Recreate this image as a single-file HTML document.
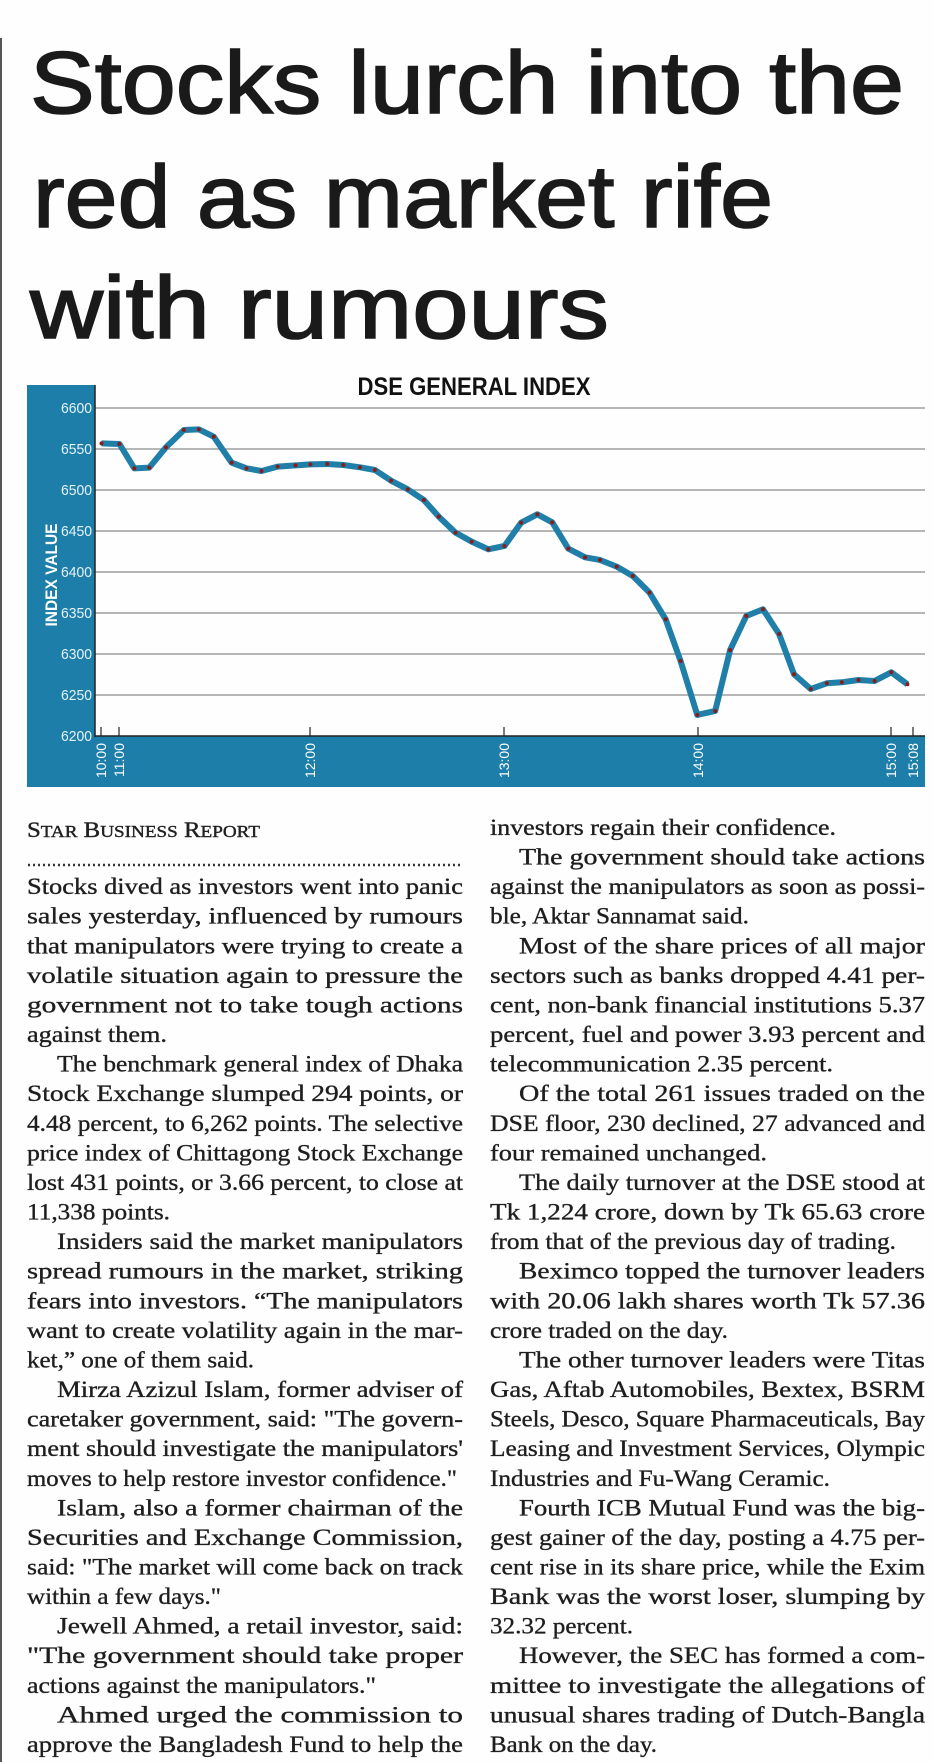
<!DOCTYPE html>
<html><head><meta charset="utf-8"><style>
html,body{margin:0;padding:0;background:#fff;}
svg{display:block;}
.b{font-family:"Liberation Serif",serif;font-size:23px;fill:#1e1e1e;stroke:#1e1e1e;stroke-width:0.35;}
</style></head><body>
<svg width="934" height="1762" viewBox="0 0 934 1762" xmlns="http://www.w3.org/2000/svg">
<rect width="934" height="1762" fill="#fefefe"/>
<line x1="1" y1="38" x2="1" y2="1762" stroke="#555" stroke-width="2"/>
<g font-family="'Liberation Sans',sans-serif" font-size="88" fill="#1a1a1a" stroke="#1a1a1a" stroke-width="1.6">
<text x="30" y="113" textLength="874" lengthAdjust="spacingAndGlyphs">Stocks lurch into the</text>
<text x="33" y="227" textLength="740" lengthAdjust="spacingAndGlyphs">red as market rife</text>
<text x="30" y="338" textLength="579" lengthAdjust="spacingAndGlyphs">with rumours</text>
</g>
<!-- chart -->
<text x="474" y="395" text-anchor="middle" font-family="'Liberation Sans',sans-serif" font-weight="bold" font-size="25" fill="#111" textLength="233" lengthAdjust="spacingAndGlyphs">DSE GENERAL INDEX</text>
<rect x="27" y="385" width="68" height="402" fill="#1c7ea9"/>
<rect x="27" y="736" width="898" height="51" fill="#1c7ea9"/>
<g stroke="#8c8c8c" stroke-width="1.3">
<line x1="95" y1="408" x2="925" y2="408"/><line x1="95" y1="449" x2="925" y2="449"/>
<line x1="95" y1="490" x2="925" y2="490"/><line x1="95" y1="531" x2="925" y2="531"/>
<line x1="95" y1="572" x2="925" y2="572"/><line x1="95" y1="613" x2="925" y2="613"/>
<line x1="95" y1="654" x2="925" y2="654"/><line x1="95" y1="695" x2="925" y2="695"/>
</g>
<line x1="95" y1="385" x2="95" y2="737" stroke="#222" stroke-width="1.5"/>
<line x1="95" y1="736" x2="925" y2="736" stroke="#222" stroke-width="1.5"/>
<g stroke="#222" stroke-width="1.2">
<line x1="101" y1="727" x2="101" y2="736"/><line x1="119" y1="727" x2="119" y2="736"/>
<line x1="310" y1="727" x2="310" y2="736"/><line x1="504" y1="727" x2="504" y2="736"/>
<line x1="698" y1="727" x2="698" y2="736"/><line x1="891" y1="727" x2="891" y2="736"/>
<line x1="913" y1="727" x2="913" y2="736"/>
</g>
<g font-family="'Liberation Sans',sans-serif" font-size="15" fill="#e6f2f8" text-anchor="end">
<text x="92" y="413" textLength="31" lengthAdjust="spacingAndGlyphs">6600</text>
<text x="92" y="454" textLength="31" lengthAdjust="spacingAndGlyphs">6550</text>
<text x="92" y="495" textLength="31" lengthAdjust="spacingAndGlyphs">6500</text>
<text x="92" y="536" textLength="31" lengthAdjust="spacingAndGlyphs">6450</text>
<text x="92" y="577" textLength="31" lengthAdjust="spacingAndGlyphs">6400</text>
<text x="92" y="618" textLength="31" lengthAdjust="spacingAndGlyphs">6350</text>
<text x="92" y="659" textLength="31" lengthAdjust="spacingAndGlyphs">6300</text>
<text x="92" y="700" textLength="31" lengthAdjust="spacingAndGlyphs">6250</text>
<text x="92" y="741" textLength="31" lengthAdjust="spacingAndGlyphs">6200</text>
</g>
<text transform="translate(57,575) rotate(-90)" text-anchor="middle" font-family="'Liberation Sans',sans-serif" font-weight="bold" font-size="17" fill="#fff" textLength="103" lengthAdjust="spacingAndGlyphs">INDEX VALUE</text>
<g font-family="'Liberation Sans',sans-serif" font-size="14" fill="#fff" text-anchor="end">
<text transform="translate(106,743) rotate(-90)">10:00</text>
<text transform="translate(124,743) rotate(-90)">11:00</text>
<text transform="translate(315,743) rotate(-90)">12:00</text>
<text transform="translate(509,743) rotate(-90)">13:00</text>
<text transform="translate(703,743) rotate(-90)">14:00</text>
<text transform="translate(896,743) rotate(-90)">15:00</text>
<text transform="translate(918,743) rotate(-90)">15:08</text>
</g>
<g transform="matrix(0.597,0,0,0.3333,0,360)">
<polyline fill="none" stroke="#1f7fa8" stroke-width="6" stroke-linejoin="round" vector-effect="non-scaling-stroke" points="170,250 200,252 225,325 250,323 278,262 308,210 333,208 358,230 388,308 413,325 438,333 465,320 495,316 520,313 548,312 575,315 603,322 628,330 655,362 683,388 710,420 735,470 763,518 790,545 818,568 845,558 873,488 900,463 925,487 952,566 980,592 1005,600 1033,620 1060,648 1088,698 1115,778 1140,903 1168,1065 1198,1053 1223,870 1250,768 1278,748 1305,822 1330,943 1358,987 1385,970 1410,967 1438,960 1465,963 1493,937 1520,973"/>
<path fill="none" stroke="#8a1c1c" stroke-width="4" stroke-linecap="round" vector-effect="non-scaling-stroke" d="M170 250l0 0M200 252l0 0M225 325l0 0M250 323l0 0M278 262l0 0M308 210l0 0M333 208l0 0M358 230l0 0M388 308l0 0M413 325l0 0M438 333l0 0M465 320l0 0M495 316l0 0M520 313l0 0M548 312l0 0M575 315l0 0M603 322l0 0M628 330l0 0M655 362l0 0M683 388l0 0M710 420l0 0M735 470l0 0M763 518l0 0M790 545l0 0M818 568l0 0M845 558l0 0M873 488l0 0M900 463l0 0M925 487l0 0M952 566l0 0M980 592l0 0M1005 600l0 0M1033 620l0 0M1060 648l0 0M1088 698l0 0M1115 778l0 0M1140 903l0 0M1168 1065l0 0M1198 1053l0 0M1223 870l0 0M1250 768l0 0M1278 748l0 0M1305 822l0 0M1330 943l0 0M1358 987l0 0M1385 970l0 0M1410 967l0 0M1438 960l0 0M1465 963l0 0M1493 937l0 0M1520 973l0 0"/>
</g>
<!-- byline -->
<text x="27" y="837" font-family="'Liberation Serif',serif" font-size="22" fill="#222" stroke="#222" stroke-width="0.4" textLength="233" lengthAdjust="spacingAndGlyphs">S<tspan font-size="17">TAR</tspan> B<tspan font-size="17">USINESS</tspan> R<tspan font-size="17">EPORT</tspan></text>
<line x1="28" y1="865" x2="463" y2="865" stroke="#333" stroke-width="2.5" stroke-dasharray="2,3"/>
<g class="b">
<text x="27" y="894.2" textLength="436" lengthAdjust="spacingAndGlyphs">Stocks dived as investors went into panic</text>
<text x="27" y="923.7" textLength="436" lengthAdjust="spacingAndGlyphs">sales yesterday, influenced by rumours</text>
<text x="27" y="953.3" textLength="436" lengthAdjust="spacingAndGlyphs">that manipulators were trying to create a</text>
<text x="27" y="982.9" textLength="436" lengthAdjust="spacingAndGlyphs">volatile situation again to pressure the</text>
<text x="27" y="1012.5" textLength="436" lengthAdjust="spacingAndGlyphs">government not to take tough actions</text>
<text x="27" y="1042.1" textLength="140" lengthAdjust="spacingAndGlyphs">against them.</text>
<text x="57" y="1071.6" textLength="406" lengthAdjust="spacingAndGlyphs">The benchmark general index of Dhaka</text>
<text x="27" y="1101.2" textLength="436" lengthAdjust="spacingAndGlyphs">Stock Exchange slumped 294 points, or</text>
<text x="27" y="1130.8" textLength="436" lengthAdjust="spacingAndGlyphs">4.48 percent, to 6,262 points. The selective</text>
<text x="27" y="1160.4" textLength="436" lengthAdjust="spacingAndGlyphs">price index of Chittagong Stock Exchange</text>
<text x="27" y="1190" textLength="436" lengthAdjust="spacingAndGlyphs">lost 431 points, or 3.66 percent, to close at</text>
<text x="27" y="1219.5" textLength="143" lengthAdjust="spacingAndGlyphs">11,338 points.</text>
<text x="57" y="1249.1" textLength="406" lengthAdjust="spacingAndGlyphs">Insiders said the market manipulators</text>
<text x="27" y="1278.7" textLength="436" lengthAdjust="spacingAndGlyphs">spread rumours in the market, striking</text>
<text x="27" y="1308.3" textLength="436" lengthAdjust="spacingAndGlyphs">fears into investors. “The manipulators</text>
<text x="27" y="1337.9" textLength="436" lengthAdjust="spacingAndGlyphs">want to create volatility again in the mar-</text>
<text x="27" y="1367.4" textLength="227" lengthAdjust="spacingAndGlyphs">ket,” one of them said.</text>
<text x="57" y="1397" textLength="406" lengthAdjust="spacingAndGlyphs">Mirza Azizul Islam, former adviser of</text>
<text x="27" y="1426.6" textLength="436" lengthAdjust="spacingAndGlyphs">caretaker government, said: "The govern-</text>
<text x="27" y="1456.2" textLength="436" lengthAdjust="spacingAndGlyphs">ment should investigate the manipulators'</text>
<text x="27" y="1485.8" textLength="430" lengthAdjust="spacingAndGlyphs">moves to help restore investor confidence."</text>
<text x="57" y="1515.3" textLength="406" lengthAdjust="spacingAndGlyphs">Islam, also a former chairman of the</text>
<text x="27" y="1544.9" textLength="436" lengthAdjust="spacingAndGlyphs">Securities and Exchange Commission,</text>
<text x="27" y="1574.5" textLength="436" lengthAdjust="spacingAndGlyphs">said: "The market will come back on track</text>
<text x="27" y="1604.1" textLength="194" lengthAdjust="spacingAndGlyphs">within a few days."</text>
<text x="57" y="1633.7" textLength="406" lengthAdjust="spacingAndGlyphs">Jewell Ahmed, a retail investor, said:</text>
<text x="27" y="1663.2" textLength="436" lengthAdjust="spacingAndGlyphs">"The government should take proper</text>
<text x="27" y="1692.8" textLength="349" lengthAdjust="spacingAndGlyphs">actions against the manipulators."</text>
<text x="57" y="1722.4" textLength="406" lengthAdjust="spacingAndGlyphs">Ahmed urged the commission to</text>
<text x="27" y="1752" textLength="436" lengthAdjust="spacingAndGlyphs">approve the Bangladesh Fund to help the</text>

<text x="490" y="835" textLength="346" lengthAdjust="spacingAndGlyphs">investors regain their confidence.</text>
<text x="519" y="864.6" textLength="406" lengthAdjust="spacingAndGlyphs">The government should take actions</text>
<text x="490" y="894.2" textLength="435" lengthAdjust="spacingAndGlyphs">against the manipulators as soon as possi-</text>
<text x="490" y="923.7" textLength="259" lengthAdjust="spacingAndGlyphs">ble, Aktar Sannamat said.</text>
<text x="519" y="953.3" textLength="406" lengthAdjust="spacingAndGlyphs">Most of the share prices of all major</text>
<text x="490" y="982.9" textLength="435" lengthAdjust="spacingAndGlyphs">sectors such as banks dropped 4.41 per-</text>
<text x="490" y="1012.5" textLength="435" lengthAdjust="spacingAndGlyphs">cent, non-bank financial institutions 5.37</text>
<text x="490" y="1042.1" textLength="435" lengthAdjust="spacingAndGlyphs">percent, fuel and power 3.93 percent and</text>
<text x="490" y="1071.6" textLength="343" lengthAdjust="spacingAndGlyphs">telecommunication 2.35 percent.</text>
<text x="519" y="1101.2" textLength="406" lengthAdjust="spacingAndGlyphs">Of the total 261 issues traded on the</text>
<text x="490" y="1130.8" textLength="435" lengthAdjust="spacingAndGlyphs">DSE floor, 230 declined, 27 advanced and</text>
<text x="490" y="1160.4" textLength="277" lengthAdjust="spacingAndGlyphs">four remained unchanged.</text>
<text x="519" y="1190" textLength="406" lengthAdjust="spacingAndGlyphs">The daily turnover at the DSE stood at</text>
<text x="490" y="1219.5" textLength="435" lengthAdjust="spacingAndGlyphs">Tk 1,224 crore, down by Tk 65.63 crore</text>
<text x="490" y="1249.1" textLength="406" lengthAdjust="spacingAndGlyphs">from that of the previous day of trading.</text>
<text x="519" y="1278.7" textLength="406" lengthAdjust="spacingAndGlyphs">Beximco topped the turnover leaders</text>
<text x="490" y="1308.3" textLength="435" lengthAdjust="spacingAndGlyphs">with 20.06 lakh shares worth Tk 57.36</text>
<text x="490" y="1337.9" textLength="238" lengthAdjust="spacingAndGlyphs">crore traded on the day.</text>
<text x="519" y="1367.4" textLength="406" lengthAdjust="spacingAndGlyphs">The other turnover leaders were Titas</text>
<text x="490" y="1397" textLength="435" lengthAdjust="spacingAndGlyphs">Gas, Aftab Automobiles, Bextex, BSRM</text>
<text x="490" y="1426.6" textLength="435" lengthAdjust="spacingAndGlyphs">Steels, Desco, Square Pharmaceuticals, Bay</text>
<text x="490" y="1456.2" textLength="435" lengthAdjust="spacingAndGlyphs">Leasing and Investment Services, Olympic</text>
<text x="490" y="1485.8" textLength="340" lengthAdjust="spacingAndGlyphs">Industries and Fu-Wang Ceramic.</text>
<text x="519" y="1515.3" textLength="406" lengthAdjust="spacingAndGlyphs">Fourth ICB Mutual Fund was the big-</text>
<text x="490" y="1544.9" textLength="435" lengthAdjust="spacingAndGlyphs">gest gainer of the day, posting a 4.75 per-</text>
<text x="490" y="1574.5" textLength="435" lengthAdjust="spacingAndGlyphs">cent rise in its share price, while the Exim</text>
<text x="490" y="1604.1" textLength="435" lengthAdjust="spacingAndGlyphs">Bank was the worst loser, slumping by</text>
<text x="490" y="1633.7" textLength="143" lengthAdjust="spacingAndGlyphs">32.32 percent.</text>
<text x="519" y="1663.2" textLength="406" lengthAdjust="spacingAndGlyphs">However, the SEC has formed a com-</text>
<text x="490" y="1692.8" textLength="435" lengthAdjust="spacingAndGlyphs">mittee to investigate the allegations of</text>
<text x="490" y="1722.4" textLength="435" lengthAdjust="spacingAndGlyphs">unusual shares trading of Dutch-Bangla</text>
<text x="490" y="1752" textLength="167" lengthAdjust="spacingAndGlyphs">Bank on the day.</text>
</g>
</svg>
</body></html>
